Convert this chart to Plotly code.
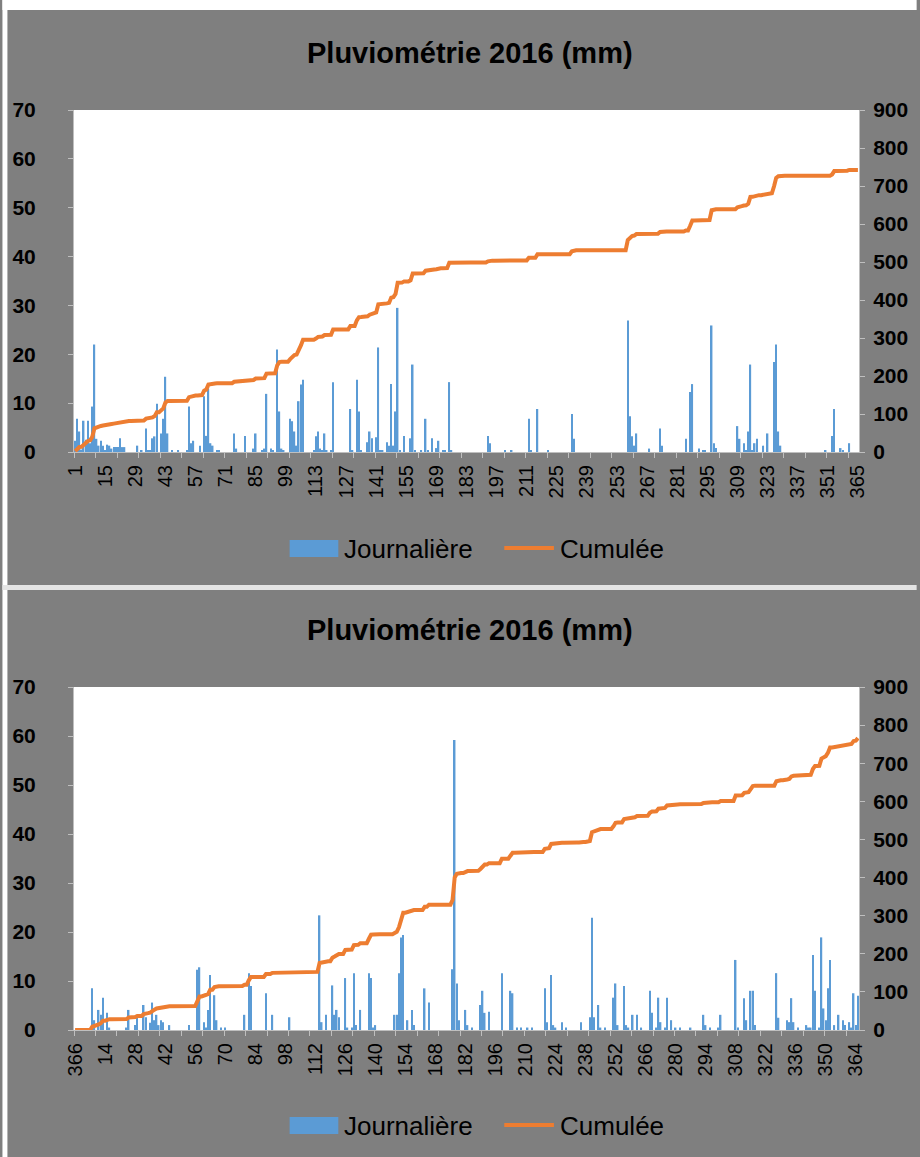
import numpy as np
import plotly.graph_objects as go

# ---------------- data ----------------
# Panel 1: day of year -> daily rainfall (mm); days not listed = 0
days_a = [1, 2, 3, 4, 5, 6, 7, 8, 9, 10, 11, 12, 13, 14, 15, 16, 17, 18, 19, 20, 21, 22, 23, 24,
          30, 32, 34, 35, 36, 37, 38, 39, 41, 42, 43, 44, 46, 49, 53, 54, 55, 56, 59,
          61, 62, 63, 64, 65, 67, 68,
          75, 76, 80, 84, 85, 88, 89, 90, 92, 93, 95, 96, 97, 98, 101, 102, 103, 104,
          105, 106, 107, 112, 113, 114, 115, 116, 117, 118, 120, 121, 129, 130, 132,
          133, 134, 137, 138, 139, 141, 142, 143, 144, 146,
          147, 148, 149, 150, 151, 152, 154, 157, 158, 159, 162, 164, 165, 167, 169,
          170, 172, 173, 175, 176, 193, 194, 201, 204, 212, 213, 216, 221,
          232, 233, 258, 259, 260, 261, 262, 268, 273, 274, 285, 287, 288, 291, 293, 294,
          297, 298, 299, 309, 310, 312, 313, 314, 315, 316, 317, 318, 321, 323, 326,
          327, 328, 329, 350, 353, 354, 357, 358, 361]
rain_a = [2.3, 6.8, 4.2, 0.5, 6.4, 2.5, 6.4, 1.8, 9.3, 22.0, 2.7, 1.3, 2.3, 1.3, 0.3, 1.5, 1.3, 0.7, 1.0, 1.0, 1.0, 2.8, 1.0, 1.0,
          1.3, 0.3, 4.8, 0.3, 0.3, 2.8, 3.2, 9.9, 3.8, 6.8, 15.4, 3.8, 0.3, 0.3, 0.3, 9.3, 1.8, 2.3, 1.3,
          11.4, 3.3, 13.0, 1.8, 1.3, 0.3, 0.3,
          3.8, 0.7, 3.3, 0.7, 3.8, 0.3, 0.7, 11.9, 0.7, 0.3, 21.0, 8.3, 0.7, 0.3, 6.8, 6.3, 4.2, 1.3,
          10.4, 13.8, 14.8, 0.3, 3.2, 4.2, 0.7, 0.3, 3.8, 0.3, 0.3, 14.3, 8.8, 0.3, 14.8,
          8.3, 0.3, 2.0, 4.2, 2.8, 3.0, 21.4, 0.3, 0.3, 2.0,
          1.3, 13.9, 1.3, 8.3, 29.5, 0.3, 3.3, 2.8, 17.9, 0.3, 0.3, 6.8, 0.3, 2.8, 0.8,
          2.3, 0.3, 0.3, 14.3, 0.3, 3.3, 1.8, 0.3, 0.3, 6.8, 0.3, 8.8, 0.3,
          7.8, 2.7, 26.9, 7.3, 3.2, 1.3, 3.8, 0.7, 4.8, 1.3, 2.7, 12.3, 13.9, 0.7, 0.3, 0.3,
          25.9, 1.8, 0.8, 5.3, 2.7, 1.8, 0.3, 4.2, 17.9, 0.3, 1.8, 2.7, 1.3, 3.8, 18.4,
          22.0, 4.2, 1.3, 0.3, 3.3, 8.8, 0.8, 0.3, 1.8]

# Panel 2: category position (0 = "366", then day 1..365) -> daily rainfall (mm)
days_b = [8, 9, 11, 12, 13, 15, 16, 24, 25, 28, 29, 32, 33, 35, 36, 37, 38, 39, 40, 41, 44,
          53, 57, 58, 60, 61, 62, 63, 65, 66, 68, 70,
          79, 81, 82, 89, 92, 100, 114, 115, 117, 120, 121, 122, 123, 126, 127, 129, 130,
          131, 133, 137, 138, 139, 140,
          149, 150, 151, 152, 153, 155, 157, 158, 163, 165, 176, 177, 178, 179, 182, 183,
          185, 189, 190, 191, 193, 199, 203, 204, 206, 208, 211, 213, 219, 220,
          222, 223, 224, 227, 229, 236, 240, 241, 242, 244, 245, 247, 251, 252, 253, 256,
          257, 258, 260, 262, 264, 268, 269, 271, 272, 273, 275, 276, 278, 280, 282, 287,
          293, 294,
          296, 300, 301, 308, 309, 312, 313, 315, 316, 317, 327, 328, 332, 333, 334, 335,
          337, 341, 342, 343, 344, 345, 347, 348, 349, 350, 351, 352, 354, 356, 358, 359,
          361, 362, 363, 364, 365]
rain_b = [8.5, 2.0, 4.1, 3.1, 6.6, 3.5, 0.5, 0.5, 4.1, 1.0, 2.6, 5.1, 2.6, 1.5, 5.6, 2.0, 3.1, 1.0, 2.0, 1.6, 1.0,
          1.0, 12.3, 12.8, 1.6, 0.5, 4.1, 11.2, 7.1, 2.0, 0.5, 0.5,
          3.1, 11.6, 9.0, 7.5, 3.1, 2.6, 23.4, 1.6, 3.1, 9.1, 3.1, 4.1, 2.6, 10.6, 0.5, 0.5, 11.6,
          1.0, 4.1, 11.6, 10.6, 0.5, 1.0,
          3.1, 3.1, 11.6, 18.9, 19.4, 2.0, 4.1, 1.0, 8.5, 5.6, 12.4, 59.2, 9.5, 2.0, 4.1, 1.0,
          0.5, 5.1, 8.0, 3.5, 3.7, 11.6, 8.0, 7.5, 0.5, 0.5, 0.5, 0.5, 8.5, 1.6,
          11.2, 1.0, 0.5, 1.6, 0.5, 1.6, 2.6, 22.9, 2.6, 5.1, 0.5, 0.5, 6.6, 9.5, 1.0, 9.0,
          1.0, 0.5, 3.1, 3.1, 0.5, 8.0, 3.5, 0.5, 6.6, 1.6, 0.5, 6.6, 2.0, 0.5, 0.5, 0.5,
          3.1, 1.0,
          0.5, 0.5, 3.1, 14.3, 0.5, 6.5, 2.0, 8.0, 8.0, 1.0, 11.6, 2.5, 2.0, 1.6, 6.5, 1.6,
          0.5, 1.0, 0.5, 0.5, 15.3, 8.0, 0.5, 18.9, 4.4, 2.0, 8.5, 14.3, 1.0, 3.1, 2.0, 1.0,
          1.6, 0.5, 7.5, 1.0, 7.0]

labels_a = [str(d) for d in range(1, 366)]
labels_b = ["366"] + [str(d) for d in range(1, 366)]

title_text = "Pluviométrie 2016 (mm)"
legend_bar = "Journalière"
legend_line = "Cumulée"

# ---------------- derived series ----------------
daily_a = np.zeros(len(labels_a))
daily_a[np.array(days_a) - 1] = rain_a
cum_a = np.cumsum(daily_a)

daily_b = np.zeros(len(labels_b))
daily_b[np.array(days_b)] = rain_b
cum_b = np.cumsum(daily_b)

xa = np.arange(len(labels_a))
xb = np.arange(len(labels_b))

BLUE = "#5B9BD5"
ORANGE = "#ED7D31"
AXC = "#bfbfbf"
FONT = "Liberation Sans Narrow, Arial Narrow, Liberation Sans, sans-serif"

W, H = 920, 1157
ML, MR, MT, MB = 72, 58, 110, 127
PW, PH = W - ML - MR, H - MT - MB


def px(p):
    return (p - ML) / PW


def py(p):
    return (H - MB - p) / PH


fig = go.Figure()
fig.add_trace(go.Bar(x=xa, y=daily_a, marker=dict(color=BLUE, line=dict(width=0)),
                     xaxis="x", yaxis="y", showlegend=False))
fig.add_trace(go.Scatter(x=xa, y=cum_a, mode="lines", line=dict(color=ORANGE, width=4),
                         xaxis="x", yaxis="y2", showlegend=False))
fig.add_trace(go.Bar(x=xb, y=daily_b, marker=dict(color=BLUE, line=dict(width=0)),
                     xaxis="x2", yaxis="y3", showlegend=False))
fig.add_trace(go.Scatter(x=xb, y=cum_b, mode="lines", line=dict(color=ORANGE, width=4),
                         xaxis="x2", yaxis="y4", showlegend=False))


def xaxis_def(labels, anchor):
    n = len(labels)
    tv = list(range(0, n, 14))
    return dict(domain=[0, 1], anchor=anchor, range=[-0.5, n - 0.5],
                tickmode="array", tickvals=tv, ticktext=[labels[i] for i in tv],
                tickangle=-90, ticks="", showline=True, linecolor=AXC, linewidth=1,
                showgrid=False, zeroline=False, ticklabelstandoff=4,
                tickfont=dict(family=FONT, size=20, color="black"),
                minor=dict(tickmode="array", tickvals=[k - 0.5 for k in range(0, n + 1, 10)],
                           ticks="outside", ticklen=5, tickcolor=AXC, showgrid=False))


def yaxis_def(domain, anchor, rng, dt, side="left", overlay=None):
    d = dict(anchor=anchor, range=rng, dtick=dt, tick0=0, ticks="outside", ticklen=5,
             tickcolor=AXC, showline=True, linecolor=AXC, linewidth=1, showgrid=False,
             zeroline=False, side=side,
             tickfont=dict(family=FONT, size=21, color="black", weight="bold"))
    if overlay:
        d["overlaying"] = overlay
        d["ticklabelstandoff"] = 4
    else:
        d["domain"] = domain
        d["ticklabelstandoff"] = 28
    return d


top_dom = [py(452), 1]
bot_dom = [0, py(687)]

fig.update_layout(
    width=W, height=H,
    margin=dict(l=ML, r=MR, t=MT, b=MB, pad=0),
    paper_bgcolor="#7f7f7f", plot_bgcolor="white",
    bargap=0.3, showlegend=False,
    xaxis=xaxis_def(labels_a, "y"),
    yaxis=yaxis_def(top_dom, "x", [0, 70], 10),
    yaxis2=yaxis_def(None, "x", [0, 900], 100, side="right", overlay="y"),
    xaxis2=xaxis_def(labels_b, "y3"),
    yaxis3=yaxis_def(bot_dom, "x2", [0, 70], 10),
    yaxis4=yaxis_def(None, "x2", [0, 900], 100, side="right", overlay="y3"),
)

shapes = []
annotations = []
# white page edges and light separator between the two chart boxes
shapes.append(dict(type="rect", xref="paper", yref="paper", x0=px(0), x1=px(W), y0=py(0), y1=py(10),
                   fillcolor="white", line=dict(width=0), layer="above"))
shapes.append(dict(type="rect", xref="paper", yref="paper", x0=px(0), x1=px(5), y0=py(0), y1=py(H),
                   fillcolor="white", line=dict(width=0), layer="above"))
shapes.append(dict(type="rect", xref="paper", yref="paper", x0=px(0), x1=px(W), y0=py(585), y1=py(590),
                   fillcolor="#e4e4e4", line=dict(width=0), layer="above"))

for off in (0, 577):
    annotations.append(dict(text="<b>" + title_text + "</b>", xref="paper", yref="paper",
                            x=px(471), y=py(53 + off), xanchor="center", yanchor="middle",
                            showarrow=False, font=dict(family=FONT, size=29, color="black")))
    shapes.append(dict(type="rect", xref="paper", yref="paper", x0=px(289), x1=px(338),
                       y0=py(557 + off), y1=py(540 + off), fillcolor=BLUE, line=dict(width=0),
                       layer="above"))
    annotations.append(dict(text=legend_bar, xref="paper", yref="paper", x=px(342), y=py(549 + off),
                            xanchor="left", yanchor="middle", showarrow=False,
                            font=dict(family=FONT, size=26, color="black")))
    shapes.append(dict(type="line", xref="paper", yref="paper", x0=px(505), x1=px(555),
                       y0=py(548 + off), y1=py(548 + off), line=dict(color=ORANGE, width=4),
                       layer="above"))
    annotations.append(dict(text=legend_line, xref="paper", yref="paper", x=px(559), y=py(549 + off),
                            xanchor="left", yanchor="middle", showarrow=False,
                            font=dict(family=FONT, size=26, color="black")))

fig.update_layout(shapes=shapes, annotations=annotations)
fig.write_html("out.html", config={"displayModeBar": False},
               post_script="document.body.style.margin='0px';")
